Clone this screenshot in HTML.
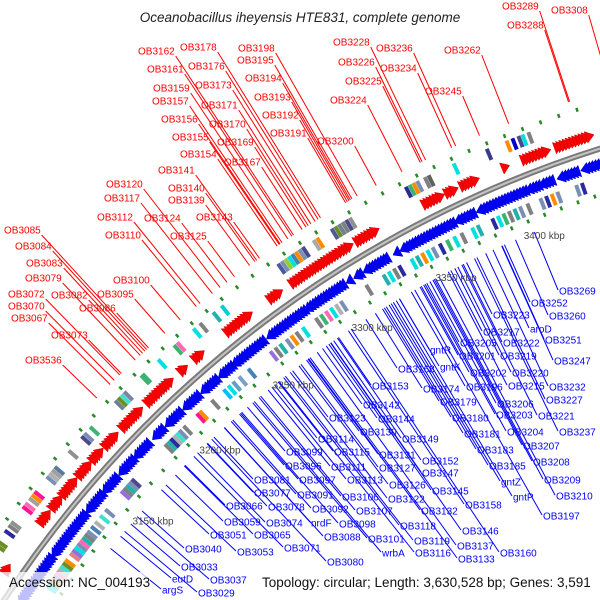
<!DOCTYPE html>
<html><head><meta charset="utf-8">
<style>
html,body{margin:0;padding:0;background:#fff;width:600px;height:600px;overflow:hidden;}
svg{display:block;font-family:"Liberation Sans",sans-serif;}
</style></head>
<body>
<svg id="map" width="600" height="600" viewBox="0 0 600 600" xmlns="http://www.w3.org/2000/svg">
<rect width="600" height="600" fill="#fff"/>
<g id="lines"></g>
<g id="tracks"></g>
<rect x="0" y="572" width="150" height="28" fill="#fff" fill-opacity="0.75"/>
<g id="labels"></g>
<text x="300" y="22" text-anchor="middle" font-size="13.5" font-style="italic" fill="#222">Oceanobacillus iheyensis HTE831, complete genome</text>
<text x="9" y="587" font-size="13.5" fill="#111">Accession: NC_004193</text>
<text x="262" y="587" font-size="13.5" fill="#111">Topology: circular; Length: 3,630,528 bp; Genes: 3,591</text>
</svg>
<script>
// ---- data (kbp) ----
const fwdStart=[3091,3120,3129,3137,3149,3159,3168,3180,3197,3219,3228,3248,3274,3287,3316,3324,3361,3373,3381,3403,3413,3430];
const fwdEnd  =[3094,3126,3134,3145,3156,3165,3175,3192,3212,3221,3232,3262,3280,3315,3320,3335,3370,3377,3388,3404,3425,3446];
const revStart=[3086,3114,3142,3155,3166,3178,3190,3200,3211,3223,3235,3244,3265,3289,3313,3318,3323,3340,3344,3375,3386,3413,3420,3430,3441];
const revEnd  =[3112,3139,3152,3163,3175,3186,3196,3208,3220,3232,3242,3262,3287,3310,3314,3320,3335,3341,3372,3383,3411,3418,3425,3438,3452];
const outFeatK=[3100,3102,3108,3111,3113,3122,3124,3127,3129,3131,3140,3142,3144,3146,3156,3165,3167,3171,3188,3190,3192,3194,3205,3206,3216,3226,3228,3238,3242,3250,3255,3288,3290,3292,3294,3296,3298,3300,3302,3308,3310,3318,3320,3322,3324,3326,3328,3358,3360,3362,3364,3368,3370,3383,3400,3410,3413,3416,3418,3421];
const outFeatC=['#6b8e23','#6b8e23','#2a2aa0','#808080','#909090','#ff1493','#ff69b4','#a0a0a0','#ff8c00','#ff1493','#7a8fb5','#b0b0b0','#a0a0a0','#5a7aa0','#909090','#4a4a8a','#7a8fb5','#3cb371','#708090','#6b8e23','#40e0d0','#8080a0','#3cb371','#3cb371','#00e0e0','#3cb371','#ff69b4','#00e0e0','#808080','#20b2aa','#00ced1','#4a5a9a','#7a8fb5','#9acd32','#00e0e0','#4682b4','#ff8c00','#7a8fb5','#4a4a8a','#a9a9a9','#ff8c00','#4a5a9a','#6b8e23','#708090','#808080','#4a4a8a','#909090','#2a2a90','#3cb371','#ff8c00','#7a8fb5','#808080','#606060','#00e0e0','#3a3a8a','#ff8c00','#0000cd','#4a4a8a','#00e0e0','#808080'];
const inFeatK=[3098,3100,3102,3104,3106,3108,3110,3112,3114,3118,3120,3122,3124,3126,3128,3130,3132,3135,3138,3142,3146,3158,3160,3162,3164,3166,3190,3192,3194,3196,3198,3200,3203,3212,3214,3222,3230,3233,3236,3240,3246,3260,3263,3266,3270,3273,3276,3280,3288,3291,3294,3297,3300,3303,3318,3328,3331,3334,3337,3344,3347,3350,3353,3356,3360,3364,3368,3372,3378,3381,3389,3392,3395,3398,3401,3404,3408,3415,3418,3421,3424,3434,3437];
const inFeatC=['#00e0e0','#20b2aa','#ff8c00','#7a8fb5','#ff69b4','#b0b0b0','#40e0d0','#6b8e23','#ff8c00','#e08080','#9370db','#00e0e0','#7a8fb5','#ff69b4','#20b2aa','#808080','#7a8fb5','#4682b4','#b0b0b0','#40e0d0','#7a8fb5','#9370db','#808080','#20b2aa','#7a8fb5','#4a4a8a','#808080','#20b2aa','#2a2aa0','#b0b0b0','#40e0d0','#7a8fb5','#808080','#ff1493','#ff8c00','#808080','#00bfff','#00e0e0','#5fa0c8','#7aa0c8','#4682b4','#9370db','#808080','#20b2aa','#7a8fb5','#ff8c00','#808080','#00e0e0','#808080','#3cb371','#ff69b4','#00e0e0','#b0b0b0','#7a8fb5','#808080','#20b2aa','#00e0e0','#808080','#2a2aa0','#00e0e0','#20b2aa','#ff8c00','#00e0e0','#7a8fb5','#2a2aa0','#3cb371','#00e0e0','#808080','#00e0e0','#20b2aa','#2a2aa0','#00e0e0','#3cb371','#808080','#20b2aa','#7a8fb5','#808080','#7a8fb5','#2a2aa0','#ff8c00','#7a8fb5','#7a8fb5','#2a2aa0'];
const outDots=[3086,3095,3104,3113,3122,3131,3140,3149,3158,3167,3176,3185,3194,3203,3212,3221,3230,3239,3248,3257,3266,3275,3284,3293,3302,3311,3320,3329,3338,3347,3356,3365,3374,3383,3392,3401,3410,3419,3428,3437,3446];
const inDots=[3090,3099,3108,3117,3126,3135,3144,3153,3162,3171,3180,3189,3198,3207,3216,3225,3234,3243,3252,3261,3270,3279,3288,3297,3306,3315,3324,3333,3342,3351,3360,3369,3378,3387,3396,3405,3414,3423,3432,3441,3450];
const tickKbp=[3150,3200,3250,3300,3350,3400];
const redNames=['OB3162','OB3178','OB3198','OB3161','OB3176','OB3195','OB3159','OB3173','OB3194','OB3157','OB3171','OB3193','OB3156','OB3170','OB3192','OB3155','OB3169','OB3191','OB3154','OB3167','OB3141','OB3120','OB3140','OB3117','OB3139','OB3112','OB3124','OB3143','OB3110','OB3125','OB3085','OB3084','OB3083','OB3079','OB3100','OB3072','OB3082','OB3095','OB3070','OB3086','OB3067','OB3073','OB3536','OB3289','OB3308','OB3288','OB3228','OB3236','OB3262','OB3226','OB3234','OB3225','OB3245','OB3224','OB3200'];
const redX=[138,180,238,147,188,237,153,195,245,152,201,254,161,209,262,172,217,270,180,224,158,106,168,104,168,97,144,196,105,170,4,15,26,25,113,8,51,97,8,79,11,51,25,502,551,507,333,376,444,338,380,345,425,330,317];
const redY=[52,48,49,70,67,61,89,86,79,102,106,98,120,125,116,138,143,134,155,163,171,185,189,199,201,218,219,218,236,237,231,247,264,279,281,295,296,295,307,309,319,336,361,7,11,26,43,49,51,63,69,82,92,101,142];
const blueNames=['OB3153','OB3174','OB3196','OB3215','OB3232','OB3142','OB3179','OB3206','OB3227','OB3123','OB3144','OB3180','OB3203','OB3221','OB3130','OB3149','OB3181','OB3204','OB3237','OB3114','OB3183','OB3207','OB3099','OB3115','OB3131','OB3152','OB3185','OB3208','OB3096','OB3111','OB3127','OB3147','OB3081','OB3097','OB3113','OB3209','gntZ','OB3077','OB3091','OB3126','OB3145','OB3210','gntP','OB3106','OB3122','OB3066','OB3078','OB3158','OB3092','OB3107','OB3132','OB3197','OB3059','OB3074','nrdF','OB3098','OB3118','OB3146','OB3051','OB3065','OB3088','OB3101','OB3119','OB3137','OB3160','OB3040','OB3053','OB3071','wrbA','OB3116','OB3133','OB3080','OB3033','OB3037','eutD','argS','OB3029','OB3269','OB3252','OB3260','OB3223','OB3217','aroD','OB3251','OB3205','OB3222','gntR','OB3201','OB3219','OB3247','OB3168','gntK','OB3202','OB3220'];
const blueX=[372,423,466,508,549,363,440,497,546,329,378,452,496,538,360,402,464,507,559,318,477,523,286,334,379,422,489,533,285,331,379,422,254,299,347,544,501,254,297,389,432,556,513,342,388,226,268,465,312,356,421,543,224,266,311,339,400,462,210,254,324,368,414,457,500,185,237,284,382,415,458,327,181,210,172,162,198,559,531,549,493,483,530,545,460,503,430,459,500,554,398,440,470,512];
const blueY=[387,390,388,387,388,406,403,405,401,419,420,419,416,417,433,440,435,433,433,440,451,447,453,453,456,462,467,463,467,468,469,474,481,481,481,481,483,494,496,486,492,497,498,498,500,507,508,506,510,512,512,517,523,524,524,525,527,532,536,536,538,540,542,547,554,550,553,549,554,554,560,563,568,581,580,591,594,292,304,317,316,333,330,341,344,344,351,357,357,362,370,368,374,374];

// ---- geometry ----
const CX=935, CY=1210, R=1113;
const NS='http://www.w3.org/2000/svg';
function ang(k){return (-139.4+(k-3150)*0.106)*Math.PI/180;}
function pt(k,r){const a=ang(k);return [CX+r*Math.cos(a),CY+r*Math.sin(a)];}
function mk(tag,attrs,parent){const e=document.createElementNS(NS,tag);for(const k in attrs)e.setAttribute(k,attrs[k]);parent.appendChild(e);return e;}
const lines=document.getElementById('lines'), tracks=document.getElementById('tracks'), labels=document.getElementById('labels');

// backbone
const a0=pt(3075,R), a1=pt(3470,R);
let bb=mk('path',{d:`M${a0[0]},${a0[1]} A${R},${R} 0 0 1 ${a1[0]},${a1[1]}`,fill:'none',stroke:'#7a7a7a','stroke-width':6},tracks);


let bb2=mk('path',{d:`M${a0[0]},${a0[1]} A${R},${R} 0 0 1 ${a1[0]},${a1[1]}`,fill:'none',stroke:'#c4c4c4','stroke-width':2},tracks);



// green dots
outDots.forEach(k=>{const p=pt(k,R+42),q=pt(k,R+46);
  const e=mk('line',{x1:p[0],y1:p[1],x2:q[0],y2:q[1],stroke:'#2a8a2a','stroke-width':2.5},tracks);
  
  });
inDots.forEach(k=>{const p=pt(k,R-42),q=pt(k,R-46);
  const e=mk('line',{x1:p[0],y1:p[1],x2:q[0],y2:q[1],stroke:'#2a8a2a','stroke-width':2.5},tracks);
  
  });

// features
outFeatK.forEach((k,i)=>{const p=pt(k,R+27),q=pt(k,R+39);
  const e=mk('line',{x1:p[0],y1:p[1],x2:q[0],y2:q[1],stroke:outFeatC[i],'stroke-width':4},tracks);
  
  });
inFeatK.forEach((k,i)=>{const p=pt(k,R-27),q=pt(k,R-39);
  const e=mk('line',{x1:p[0],y1:p[1],x2:q[0],y2:q[1],stroke:inFeatC[i],'stroke-width':4},tracks);
  
  });

// genes
fwdStart.forEach((s,i)=>{for(let k=s;k<=fwdEnd[i];k+=1.6){
  const p1=pt(k,R+9),p2=pt(k,R+21),p3=pt(k+4,R+15);
  const e=mk('polygon',{points:`${p1} ${p2} ${p3}`,fill:'#ff0000',stroke:'#c00000','stroke-width':0.5},tracks);
  
  }});
revStart.forEach((s,i)=>{for(let k=revEnd[i];k>=s;k-=1.6){
  const p1=pt(k,R-9),p2=pt(k,R-21),p3=pt(k-4,R-15);
  const e=mk('polygon',{points:`${p1} ${p2} ${p3}`,fill:'#0000ff',stroke:'#0000b0','stroke-width':0.5},tracks);
  
  }});

// ticks
tickKbp.forEach(k=>{const p=pt(k,R-56);
  const t=mk('text',{x:p[0],y:p[1],'font-size':10,fill:'#444','dominant-baseline':'central'},labels);
  t.textContent=k+' kbp';
  
  });

// labels
function endAt(x,y,r){const dx=x-CX,dy=y-CY,d=Math.hypot(dx,dy);return [CX+dx*r/d,CY+dy*r/d];}
redNames.forEach((n,i)=>{
  const t=mk('text',{x:redX[i],y:redY[i],'font-size':10,fill:'#ff0000','dominant-baseline':'central'},labels);
  t.textContent=n;
  
  
  const w=t.getComputedTextLength();
  const sx=redX[i]+w+1, sy=redY[i]+4, e=endAt(sx,sy,R+54);
  const l=mk('line',{x1:sx,y1:sy,x2:e[0],y2:e[1],stroke:'#ff0000','stroke-width':1},lines);
  
  
});
blueNames.forEach((n,i)=>{
  const t=mk('text',{x:blueX[i],y:blueY[i],'font-size':10,fill:'#0000ff','dominant-baseline':'central'},labels);
  t.textContent=n;
  
  
  const sx=blueX[i]-1, sy=blueY[i]-2, e=endAt(sx,sy,R-56);
  const l=mk('line',{x1:sx,y1:sy,x2:e[0],y2:e[1],stroke:'#0000ff','stroke-width':1},lines);
  
  
});
</script>
</body></html>
